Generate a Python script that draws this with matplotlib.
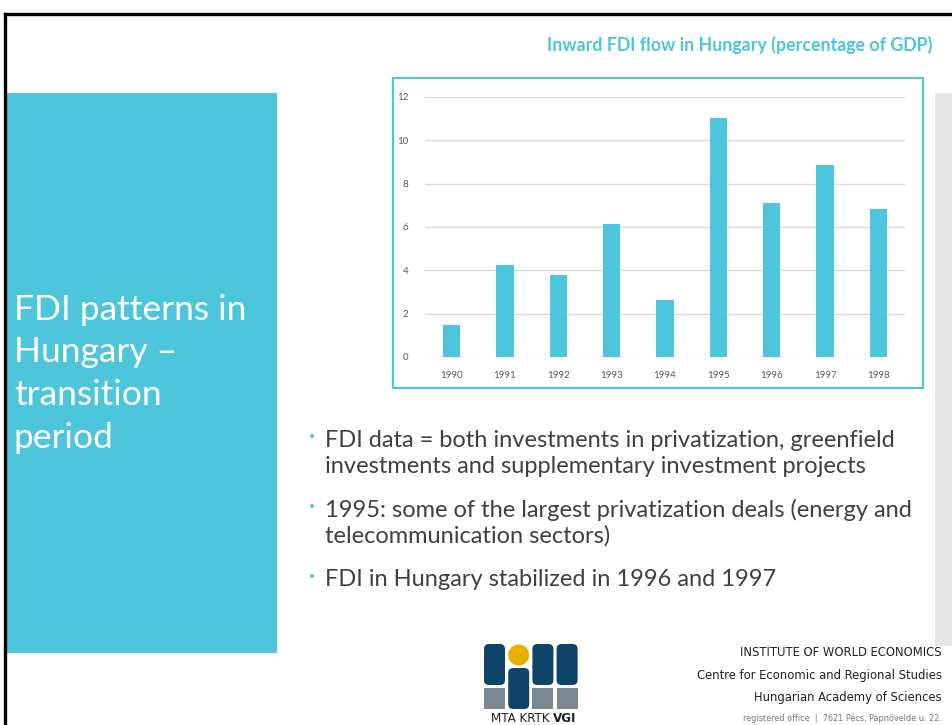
import matplotlib
matplotlib.use("Agg")
import matplotlib.pyplot as plt
from matplotlib.patches import Rectangle, Circle, FancyBboxPatch

# data
years = ['1990', '1991', '1992', '1993', '1994', '1995', '1996', '1997', '1998']
fdi_pct_gdp = [1.47, 4.25, 3.80, 6.13, 2.64, 11.02, 7.10, 8.86, 6.85]
y_ticks = [0, 2, 4, 6, 8, 10, 12]

chart_title = 'Inward FDI flow in Hungary (percentage of GDP)'
slide_title = ['FDI patterns in', 'Hungary \u2013', 'transition', 'period']
bullets = [
    ['FDI data = both investments in privatization, greenfield',
     'investments and supplementary investment projects'],
    ['1995: some of the largest privatization deals (energy and',
     'telecommunication sectors)'],
    ['FDI in Hungary stabilized in 1996 and 1997'],
]
footer = ['INSTITUTE OF WORLD ECONOMICS',
          'Centre for Economic and Regional Studies',
          'Hungarian Academy of Sciences']
footer_small = 'registered office  |  7621 P\u00e9cs, Papn\u00f6velde u. 22.'

TEAL = '#4DC5DB'
TEXT = '#404040'
W, H = 952, 725

fig = plt.figure(figsize=(W / 100, H / 100), dpi=100)
fig.patch.set_facecolor('white')

# background axes in pixel coordinates
bg = fig.add_axes([0, 0, 1, 1])
bg.set_xlim(0, W)
bg.set_ylim(H, 0)
bg.axis('off')

# slide border
bg.plot([5, W], [14, 14], color='black', lw=2.4, solid_capstyle='projecting')
bg.plot([5, 5], [14, H], color='black', lw=2.4)

# teal title block and right grey panel
bg.add_patch(Rectangle((6.5, 93), 270, 560, color=TEAL, lw=0))
bg.add_patch(Rectangle((935, 93), 20, 553, color='#E6E6E6', lw=0))

for line, y in zip(slide_title, [310, 352, 395, 438]):
    bg.text(14, y, line, color='white', fontsize=25.5, family='Lato',
            va='center', ha='left')

# chart frame + title
bg.add_patch(Rectangle((393, 78), 530, 310, fill=False, ec=TEAL, lw=1.5))
bg.text(932, 45, chart_title, color=TEAL, fontsize=12.8, family='Lato',
        fontweight='bold', ha='right', va='center')

# bullets
ys = [[440, 466], [510, 536], [580]]
for lines, yy in zip(bullets, ys):
    bg.text(308, yy[0] - 3, '\u2022', color=TEAL, fontsize=10, ha='left', va='center')
    for line, y in zip(lines, yy):
        bg.text(325, y, line, color=TEXT, fontsize=17, family='Lato',
                ha='left', va='center')

# footer
ffam = 'DejaVu Sans'
for txt, y in zip(footer, [652, 675, 697]):
    bg.text(942, y, txt, color='#222222', fontsize=9.3, family=ffam,
            stretch='condensed', ha='right', va='center')
bg.text(942, 718, footer_small, color='#777777', fontsize=6.5, family=ffam,
        stretch='condensed', ha='right', va='center')

# logo
navy = '#0E4468'
grey = '#7B8791'
cw, gap, x0 = 21, 3.2, 484
for i in range(4):
    x = x0 + i * (cw + gap)
    if i == 1:
        bg.add_patch(Circle((x + cw / 2, 655), 10.5, color='#E9B000', lw=0))
        bg.add_patch(FancyBboxPatch((x, 668), cw, 41, boxstyle='round,pad=0,rounding_size=5',
                                    color=navy, lw=0))
    else:
        bg.add_patch(FancyBboxPatch((x, 644), cw, 41, boxstyle='round,pad=0,rounding_size=5',
                                    color=navy, lw=0))
        bg.add_patch(Rectangle((x, 687.5), cw, 21.5, color=grey, lw=0))
bg.text(553, 722, 'MTA KRTK ', color='#222222', fontsize=9.5, family=ffam,
        stretch='condensed', ha='right', va='baseline')
bg.text(553, 722, 'VGI', color='#222222', fontsize=9.5, family=ffam,
        stretch='condensed', fontweight='bold', ha='left', va='baseline')

# bar chart
ax = fig.add_axes([425 / W, (H - 357) / H, 480 / W, 260 / H])
ax.set_facecolor('none')
x = range(len(years))
ax.bar(x, fdi_pct_gdp, width=0.32, color=TEAL, zorder=3)
ax.set_xlim(-0.5, len(years) - 0.5)
ax.set_ylim(0, 12)
ax.set_yticks(y_ticks)
ax.set_xticks(list(x))
ax.set_xticklabels(years)
ax.tick_params(length=0, labelsize=7, colors='#595959')
ax.tick_params(axis='y', pad=12)
ax.tick_params(axis='x', pad=10)
ax.grid(axis='y', color='#D9D9D9', lw=1, zorder=0)
for s in ax.spines.values():
    s.set_visible(False)
for lab in ax.get_xticklabels() + ax.get_yticklabels():
    lab.set_family('Lato')

fig.savefig('out.png', dpi=100)
